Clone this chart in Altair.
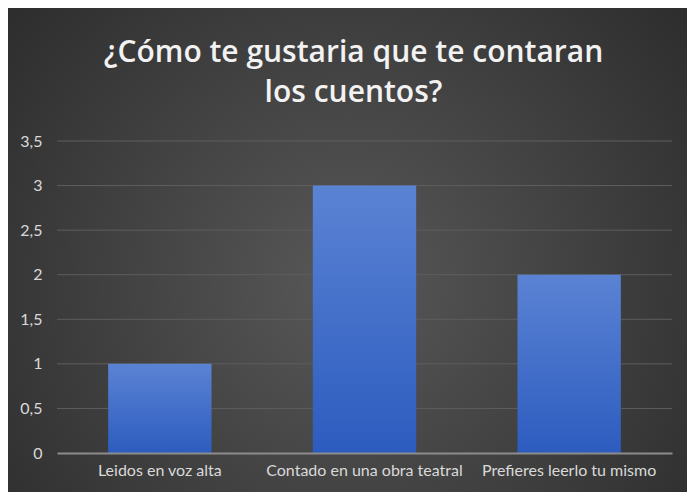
import altair as alt
import pandas as pd

categories = ["Leidos en voz alta", "Contado en una obra teatral", "Prefieres leerlo tu mismo"]
values = [1, 3, 2]
y_ticks = [0, 0.5, 1, 1.5, 2, 2.5, 3, 3.5]
title_lines = ["¿Cómo te gustaria que te contaran", "los cuentos?"]

W, H = 615, 312
PL, PT, PR, PB = 49, 133, 15, 39

df = pd.DataFrame({"cat": categories, "val": values})
bg_df = pd.DataFrame({"a": [0]})
grid_df = pd.DataFrame({"t": y_ticks[1:]})

yscale = alt.Scale(domain=[0, 3.5], nice=False)
yaxis = alt.Axis(title=None, values=y_ticks, domain=False, ticks=False,
                 grid=False,
                 labelExpr="replace(toString(datum.value), '.', ',')",
                 labelColor="#d9d9d9", labelFont="Lato",
                 labelFontSize=16, labelPadding=15, zindex=1)

bg = alt.Chart(bg_df).mark_rect(
    color=alt.Gradient(
        gradient="radial",
        stops=[alt.GradientStop(color="#585858", offset=0),
               alt.GradientStop(color="#262626", offset=1)],
        x1=0.5, y1=0.55, r1=0, x2=0.5, y2=0.55, r2=0.75,
    )
).encode(
    x=alt.value(-PL), x2=alt.value(W + PR),
    y=alt.value(-PT), y2=alt.value(H + PB),
)

grid = alt.Chart(grid_df).mark_rule(color="#5e5e5e", strokeWidth=1).encode(
    y=alt.Y("t:Q", scale=yscale, axis=yaxis),
    x=alt.value(0), x2=alt.value(W),
)

bars = alt.Chart(df).mark_bar(
    color=alt.Gradient(
        gradient="linear",
        stops=[alt.GradientStop(color="#5b83d4", offset=0),
               alt.GradientStop(color="#2c5cbf", offset=1)],
        x1=1, x2=1, y1=0, y2=1,
    ),
).encode(
    x=alt.X("cat:N", sort=categories,
            scale=alt.Scale(paddingInner=0.495, paddingOuter=0.25),
            axis=alt.Axis(title=None, labelAngle=0, domainColor="#8c8c8c",
                          domainWidth=2, ticks=False, labelColor="#d9d9d9",
                          labelFont="Lato", labelFontSize=16, labelPadding=9,
                          labelLimit=400, zindex=1)),
    y=alt.Y("val:Q", scale=yscale, axis=yaxis),
)

chart = alt.layer(bg, grid, bars).properties(
    width=W, height=H,
    autosize=alt.AutoSizeParams(type="none"),
    padding={"left": PL, "top": PT, "right": PR, "bottom": PB},
    title=alt.TitleParams(title_lines, anchor="middle", dx=-11, offset=-100,
                          font="Open Sans", fontSize=30, fontWeight=600,
                          color="#f2f2f2", lineHeight=40, zindex=5),
).configure(background="white").configure_view(stroke=None)

chart.save("out.html", embed_options={"renderer": "svg", "actions": False})
